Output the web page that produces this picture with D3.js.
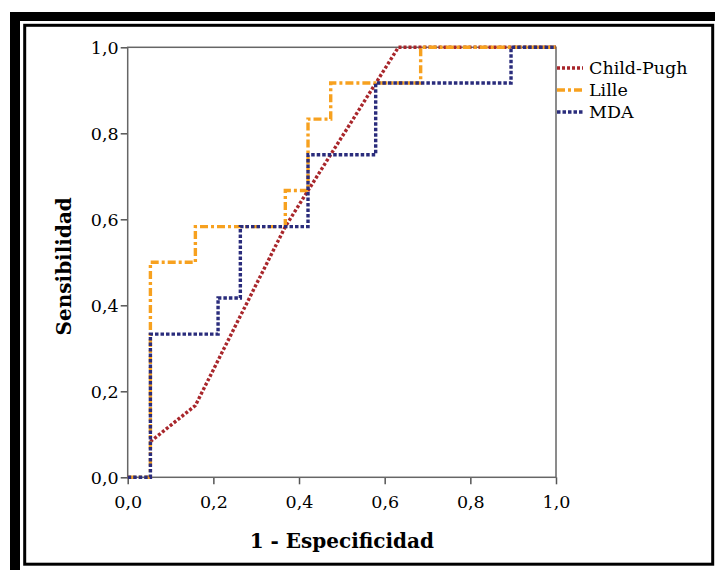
<!DOCTYPE html>
<html>
<head>
<meta charset="utf-8">
<script src="https://cdn.jsdelivr.net/npm/d3@7"></script>
<style>
  body { margin: 0; background: #fff; }
  text { font-family: "DejaVu Serif", serif; }
</style>
</head>
<body>
<div id="chart"></div>
<script>

// ROC curves: 1 - especificidad (x) vs sensibilidad (y)
var seriesNames = ["Child-Pugh", "Lille", "MDA"];

var childPughX = [0.053, 0.158, 0.368, 0.632, 1.0];
var childPughY = [0.083, 0.167, 0.583, 1.0, 1.0];

var lilleX = [0, 0.053, 0.053, 0.158, 0.158, 0.368, 0.368, 0.421, 0.421, 0.474, 0.474, 0.684, 0.684, 1.0];
var lilleY = [0, 0, 0.5, 0.5, 0.583, 0.583, 0.667, 0.667, 0.833, 0.833, 0.917, 0.917, 1.0, 1.0];

var mdaX = [0, 0.053, 0.053, 0.211, 0.211, 0.263, 0.263, 0.421, 0.421, 0.579, 0.579, 0.895, 0.895, 1.0];
var mdaY = [0, 0, 0.333, 0.333, 0.417, 0.417, 0.583, 0.583, 0.75, 0.75, 0.917, 0.917, 1.0, 1.0];

var tickValues = [0, 0.2, 0.4, 0.6, 0.8, 1.0];

var colors = { "Child-Pugh": "#a8262b", "Lille": "#f7a11f", "MDA": "#2a2c7c" };
var dashes = { "Child-Pugh": "3,2", "Lille": "8,3,3,3", "MDA": "3.5,2" };

var width = 715, height = 570;

var svg = d3.select("#chart")
  .append("svg")
  .attr("width", width)
  .attr("height", height);

// frame: thick bars top/left, thin box inside
svg.append("rect").attr("x", 10).attr("y", 12).attr("width", 705).attr("height", 9).attr("fill", "#000");
svg.append("rect").attr("x", 10).attr("y", 12).attr("width", 10).attr("height", 558).attr("fill", "#000");
svg.append("rect")
  .attr("x", 24.7).attr("y", 25.3)
  .attr("width", 688).attr("height", 538.9)
  .attr("fill", "none")
  .attr("stroke", "#000")
  .attr("stroke-width", 3);

var x = d3.scaleLinear().domain([0, 1]).range([127.7, 556]);
var y = d3.scaleLinear().domain([0, 1]).range([477.3, 47.3]);

var fmt = function (d) { return d3.format(".1f")(d).replace(".", ","); };

var xAxis = d3.axisBottom(x).tickValues(tickValues).tickFormat(fmt).tickSize(7).tickSizeOuter(0);
var yAxis = d3.axisLeft(y).tickValues(tickValues).tickFormat(fmt).tickSize(7).tickSizeOuter(0);

var gx = svg.append("g")
  .attr("transform", "translate(0," + y(0) + ")")
  .call(xAxis);

var gy = svg.append("g")
  .attr("transform", "translate(" + x(0) + ",0)")
  .call(yAxis);

[gx, gy].forEach(function (g) {
  g.select(".domain").remove();
  g.selectAll("line").attr("stroke", "#555").attr("stroke-width", 1.5);
  g.selectAll("text").attr("fill", "#000").style("font-size", "17.5px").style("font-family", "DejaVu Serif, serif");
});
gx.selectAll("text").attr("dy", "0").attr("y", 31);
gy.selectAll("text").attr("x", -9).attr("dy", "0.36em");

// plot box
svg.append("rect")
  .attr("x", x(0)).attr("y", y(1))
  .attr("width", x(1) - x(0)).attr("height", y(0) - y(1))
  .attr("fill", "none")
  .attr("stroke", "#666")
  .attr("stroke-width", 1.5);

var line = d3.line()
  .x(function (d) { return x(d[0]); })
  .y(function (d) { return y(d[1]); });

var curves = [
  { name: "Child-Pugh", pts: d3.zip(childPughX, childPughY) },
  { name: "Lille", pts: d3.zip(lilleX, lilleY) },
  { name: "MDA", pts: d3.zip(mdaX, mdaY) }
];

svg.selectAll(".roc")
  .data(curves).enter()
  .append("path")
  .attr("class", "roc")
  .attr("d", function (d) { return line(d.pts); })
  .attr("fill", "none")
  .attr("stroke", function (d) { return colors[d.name]; })
  .attr("stroke-width", 3.4)
  .attr("stroke-dasharray", function (d) { return dashes[d.name]; });

// legend
var legend = svg.selectAll(".legend")
  .data(seriesNames).enter()
  .append("g")
  .attr("class", "legend")
  .attr("transform", function (d, i) { return "translate(557," + (68 + i * 22) + ")"; });

legend.append("line")
  .attr("x1", 0).attr("x2", 26)
  .attr("stroke", function (d) { return colors[d]; })
  .attr("stroke-width", 3.4)
  .attr("stroke-dasharray", function (d) { return dashes[d]; });

legend.append("text")
  .attr("x", 32)
  .attr("dy", "0.35em")
  .style("font-size", "17.5px")
  .text(function (d) { return d; });

// axis titles
svg.append("text")
  .attr("x", (x(0) + x(1)) / 2)
  .attr("y", 548)
  .style("text-anchor", "middle")
  .style("font-size", "20px")
  .style("font-weight", "bold")
  .text("1 - Especificidad");

svg.append("text")
  .attr("transform", "rotate(-90)")
  .attr("x", -(y(0) + y(1)) / 2 - 4)
  .attr("y", 71)
  .style("text-anchor", "middle")
  .style("font-size", "20px")
  .style("font-weight", "bold")
  .text("Sensibilidad");

</script>
</body>
</html>
